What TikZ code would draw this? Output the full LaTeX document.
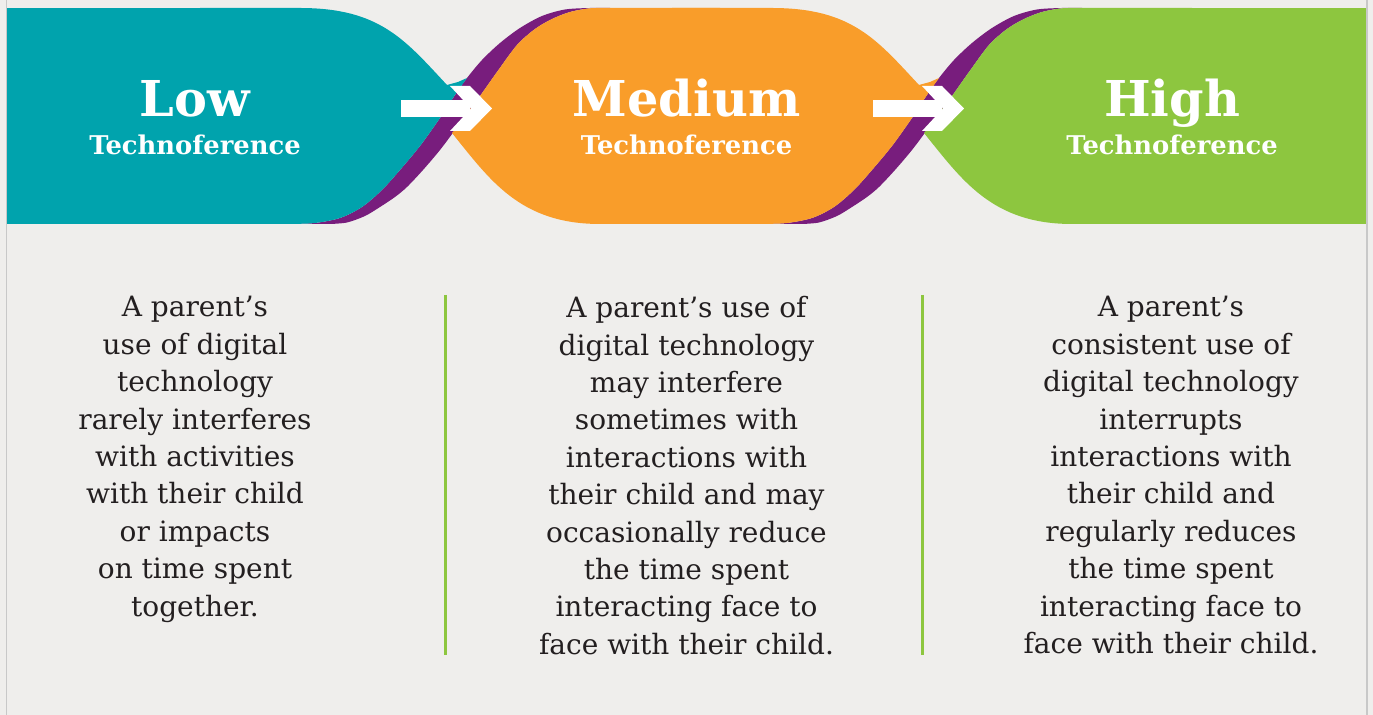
\documentclass[tikz,border=0pt]{standalone}
\usepackage{fontspec}
\setmainfont{DejaVu Serif}
\definecolor{bg}{RGB}{239,238,236}
\definecolor{bordergray}{RGB}{200,200,200}
\definecolor{tealc}{RGB}{0,163,173}
\definecolor{orangec}{RGB}{249,157,42}
\definecolor{greenc}{RGB}{141,198,63}
\definecolor{purplec}{RGB}{120,29,125}
\definecolor{textc}{RGB}{35,31,32}
\tikzset{
  title/.style={text=white, font={\bfseries\fontsize{24.7}{29}\selectfont}, anchor=base, inner sep=0pt},
  subtitle/.style={text=white, font={\bfseries\fontsize{12.9}{15}\selectfont}, anchor=base, inner sep=0pt},
  body/.style={text=textc, font={\fontsize{14}{18.7}\selectfont}, align=center, anchor=north, inner sep=0pt},
  sepline/.style={draw=greenc, line width=1.5pt},
  borderline/.style={draw=bordergray, line width=0.8pt}
}
\newcommand\junction[2]{%
  \fill[purplec] plot[smooth] coordinates {(280,224) (313,223.2) (340,218) (362,207) (382,190) (400,170) (420,146) (440,118) (455,95) (467,78) (482,60) (500,43) (520,28) (542,16) (565,9.5) (590,8) (610,8)}
     -- plot[smooth] coordinates {(610,8) (590,8.3) (570,12) (552,19) (535,29) (517,45) (497,72) (480,96) (468,112) (455,130) (440,150) (423,170) (407,187) (395,197) (380,207) (365,216) (347,222.5) (330,224)} -- cycle;
  \fill[#1] (200,8) -- (300,8) .. controls (380,8) and (405,40) .. (447,85) -- (458,82) -- (467,78)
     -- plot[smooth] coordinates {(467,78) (455,95) (440,118) (420,146) (400,170) (382,190) (362,207) (340,218) (313,223.2) (280,224)} -- (200,224) -- cycle;
  \fill[#2] (720,8) -- (610,8) -- plot[smooth] coordinates {(610,8) (590,8.3) (570,12) (552,19) (535,29) (517,45) (497,72) (480,96) (468,112) (455,130)}
     -- (452,133) .. controls (490,180) and (520,224) .. (600,224) -- (720,224) -- cycle;
  \fill[white] (401,100) rectangle (470,117);
  \fill[white] (450,86) -- (470,86) -- (492,108.5) -- (470,131) -- (450,131) -- (471,108.5) -- cycle;
}
\begin{document}
\begin{tikzpicture}[x=0.5pt,y=-0.5pt]
\useasboundingbox (0,0) rectangle (1373,715);
\fill[bg] (0,0) rectangle (1373,715);
% bands
\fill[tealc] (7,8) rectangle (250,224);
\junction{tealc}{orangec}
\fill[orangec] (650,8) rectangle (760,224);
\begin{scope}[shift={(472,0)}]
\junction{orangec}{greenc}
\end{scope}
\fill[greenc] (1150,8) rectangle (1367,224);
% borders
\draw[borderline] (6.5,0) -- (6.5,715);
\draw[borderline] (1367,0) -- (1367,715);
% titles
\node[title] (low) at (195,117) {Low};
\node[subtitle] (lowsub) at (195,155) {Technoference};
\node[title] (med) at (686.5,117) {Medium};
\node[subtitle] (medsub) at (686.5,155) {Technoference};
\node[title] (high) at (1172,117) {High};
\node[subtitle] (highsub) at (1172,155) {Technoference};
% separators
\draw[sepline] (445,295) -- (445,655);
\draw[sepline] (922,295) -- (922,655);
% body
\node[body] (lowtext) at (195,296) {A parent’s\\use of digital\\technology\\rarely interferes\\with activities\\with their child\\or impacts\\on time spent\\together.};
\node[body] (medtext) at (686.5,296) {A parent’s use of\\digital technology\\may interfere\\sometimes with\\interactions with\\their child and may\\occasionally reduce\\the time spent\\interacting face to\\face with their child.};
\node[body] (hightext) at (1171,296) {A parent’s\\consistent use of\\digital technology\\interrupts\\interactions with\\their child and\\regularly reduces\\the time spent\\interacting face to\\face with their child.};
\end{tikzpicture}
\end{document}
